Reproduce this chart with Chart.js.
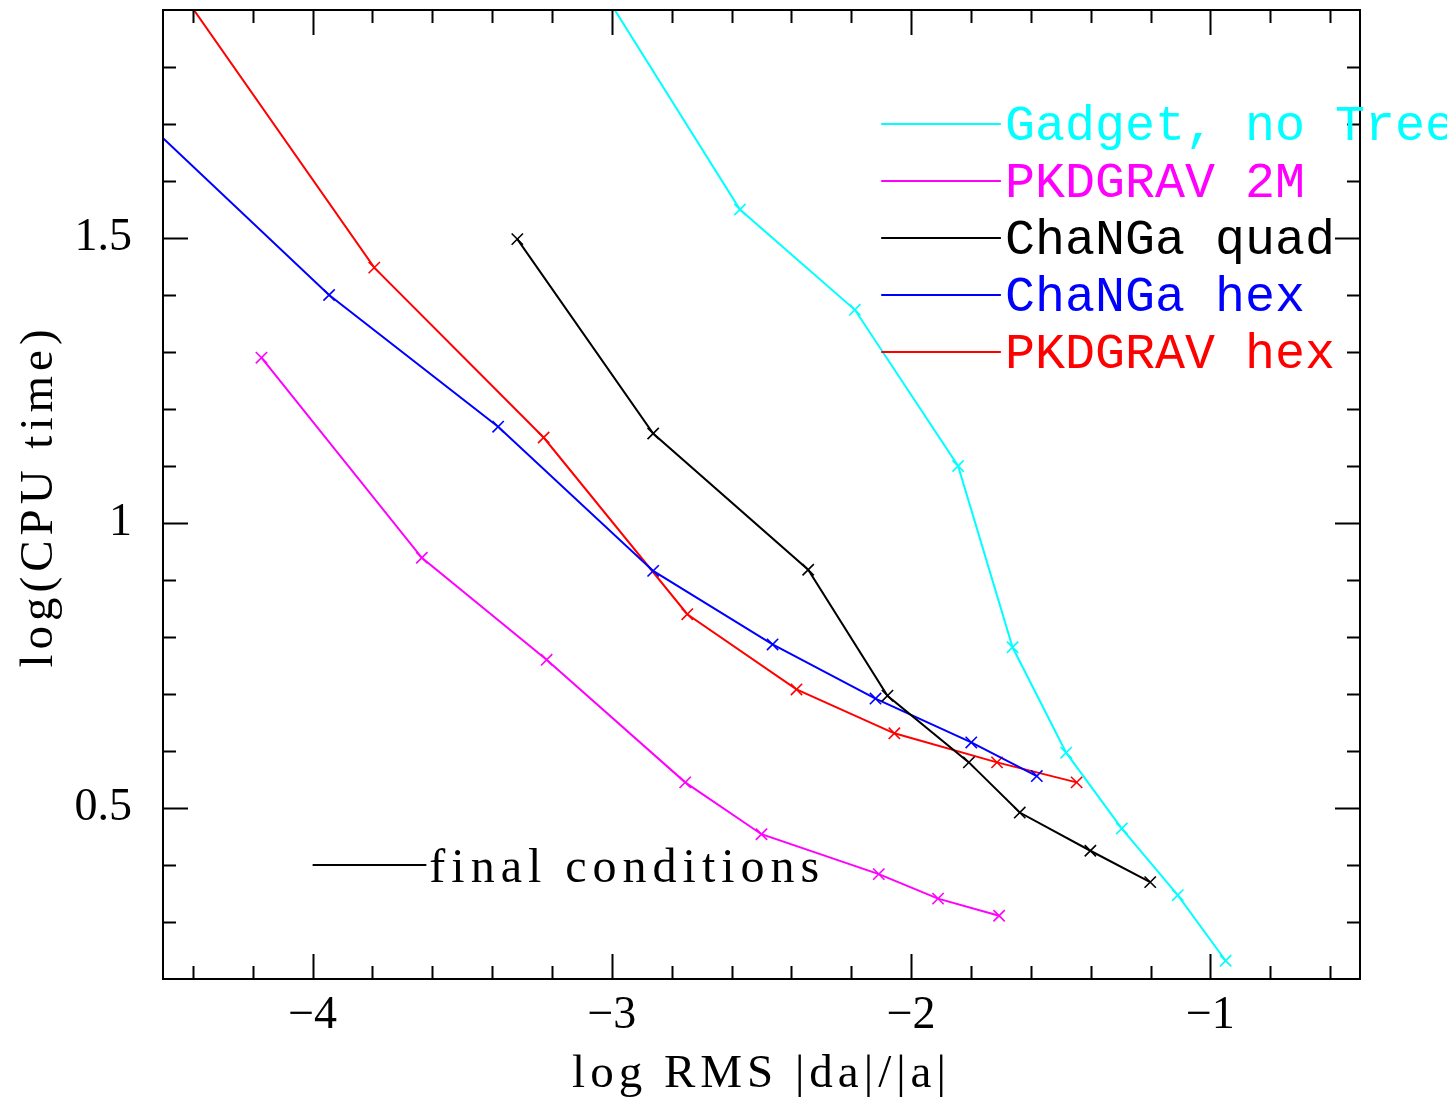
<!DOCTYPE html>
<html>
<head>
<meta charset="utf-8">
<title>log CPU time vs log RMS force error</title>
<script src="https://cdn.jsdelivr.net/npm/chart.js@4.4.1/dist/chart.umd.min.js"></script>
<style>
    html, body { margin: 0; padding: 0; background: #fff; }
    #wrap { width: 1447px; height: 1100px; }
</style>
</head>
<body>
<div id="wrap"><canvas id="cpuChart" width="1447" height="1100"></canvas></div>
<script>
// cpu-chart.js - log(CPU time) against log RMS |da|/|a| for the gravity codes

// Gadget, no TreePM (first point sits just above the frame)
const GADGET_X = [-3.05, -2.572, -2.188, -1.843, -1.661, -1.482, -1.296, -1.109, -0.949];
const GADGET_Y = [1.95, 1.550, 1.374, 1.100, 0.782, 0.597, 0.464, 0.347, 0.232];

// PKDGRAV 2M
const PKD2M_X = [-4.171, -3.635, -3.218, -2.755, -2.500, -2.108, -1.910, -1.706];
const PKD2M_Y = [1.290, 0.939, 0.760, 0.545, 0.454, 0.384, 0.341, 0.311];

// ChaNGa quad
const QUAD_X = [-3.316, -2.862, -2.344, -2.079, -1.807, -1.637, -1.401, -1.201];
const QUAD_Y = [1.498, 1.157, 0.918, 0.697, 0.580, 0.492, 0.425, 0.370];

// ChaNGa hex (first point sits just left of the frame)
const CHEX_X = [-4.55, -3.945, -3.380, -2.862, -2.463, -2.119, -1.799, -1.580];
const CHEX_Y = [1.70, 1.400, 1.169, 0.916, 0.787, 0.692, 0.615, 0.556];

// PKDGRAV hex (first point sits just above the frame)
const PHEX_X = [-4.45, -3.794, -3.228, -2.748, -2.383, -2.056, -1.713, -1.447];
const PHEX_Y = [1.94, 1.448, 1.150, 0.840, 0.708, 0.631, 0.580, 0.545];

const SERIES_NAMES = ['Gadget, no TreePM', 'PKDGRAV 2M', 'ChaNGa quad', 'ChaNGa hex', 'PKDGRAV hex'];
const SERIES_COLORS = ['#00ffff', '#ff00ff', '#000000', '#0000ff', '#ff0000'];

// axis ranges and tick steps
const X_MIN = -4.5, X_MAX = -0.5, X_MINOR = 0.2;
const Y_MIN = 0.2, Y_MAX = 1.9, Y_MINOR = 0.1;

const X_TITLE = 'log RMS |da|/|a|';
const Y_TITLE = 'log(CPU time)';
const NOTE_TEXT = 'final conditions';

const SERIF = '"Liberation Serif", "DejaVu Serif", serif';
const MONO = '"Liberation Mono", "DejaVu Sans Mono", monospace';

function toPoints(xs, ys) {
    return xs.map((x, i) => ({ x, y: ys[i] }));
}

function isMultiple(v, step) {
    const r = v / step;
    return Math.abs(r - Math.round(r)) < 1e-6;
}

function fmtMinus(v) {
    return v < 0 ? '\u2212' + String(Math.abs(v)) : String(v);
}

// tick values on multiples of step inside [min, max]
function stepTicks(min, max, step) {
    const out = [];
    for (let k = Math.ceil(min / step - 1e-9); k * step <= max + 1e-9; k++) {
        out.push({ value: Math.round(k * step * 1000) / 1000 });
    }
    return out;
}

// Frame with inward ticks on all four sides, PGPLOT style
const frameTicks = {
    id: 'frameTicks',
    afterDatasetsDraw(chart) {
        const { ctx, chartArea: a, scales: { x, y } } = chart;
        ctx.save();
        ctx.strokeStyle = '#000';
        ctx.lineWidth = 2;
        ctx.beginPath();
        x.ticks.forEach(t => {
            if (t.value <= x.min + 1e-6 || t.value >= x.max - 1e-6) return;
            const px = Math.round(x.getPixelForValue(t.value)) + 0.5;
            const len = isMultiple(t.value, 1) ? 25 : 13;
            ctx.moveTo(px, a.bottom); ctx.lineTo(px, a.bottom - len);
            ctx.moveTo(px, a.top); ctx.lineTo(px, a.top + len);
        });
        y.ticks.forEach(t => {
            if (t.value <= y.min + 1e-6 || t.value >= y.max - 1e-6) return;
            const py = Math.round(y.getPixelForValue(t.value)) + 0.5;
            const len = isMultiple(t.value, 0.5) ? 25 : 13;
            ctx.moveTo(a.left, py); ctx.lineTo(a.left + len, py);
            ctx.moveTo(a.right, py); ctx.lineTo(a.right - len, py);
        });
        ctx.stroke();
        ctx.strokeRect(a.left, a.top, a.right - a.left, a.bottom - a.top);
        ctx.restore();
    }
};

// Key, note and axis titles (key and note are placed in data space)
const plotText = {
    id: 'plotText',
    afterDraw(chart) {
        const { ctx, chartArea: a, scales: { x, y } } = chart;
        ctx.save();

        // key: sample line from -2.1 to -1.7, rows at 1.7, 1.6, ...
        ctx.font = '50px ' + MONO;
        ctx.textAlign = 'left';
        ctx.textBaseline = 'alphabetic';
        SERIES_NAMES.forEach((name, i) => {
            const py = y.getPixelForValue(1.7 - i * 0.1);
            ctx.strokeStyle = SERIES_COLORS[i];
            ctx.fillStyle = SERIES_COLORS[i];
            ctx.lineWidth = 2;
            ctx.beginPath();
            ctx.moveTo(x.getPixelForValue(-2.1), py);
            ctx.lineTo(x.getPixelForValue(-1.7), py);
            ctx.stroke();
            ctx.fillText(name, x.getPixelForValue(-1.7) + 4, py + 16);
        });

        // note in the lower left
        const ny = y.getPixelForValue(0.4);
        ctx.strokeStyle = '#000';
        ctx.fillStyle = '#000';
        ctx.beginPath();
        ctx.moveTo(x.getPixelForValue(-4), ny);
        ctx.lineTo(x.getPixelForValue(-3.62), ny);
        ctx.stroke();
        ctx.font = '48px ' + SERIF;
        ctx.letterSpacing = '6px';
        ctx.fillText(NOTE_TEXT, x.getPixelForValue(-3.61), ny + 17);

        // axis titles
        ctx.font = '47px ' + SERIF;
        ctx.letterSpacing = '5px';
        ctx.textAlign = 'center';
        ctx.fillText(X_TITLE, (a.left + a.right) / 2, 1087);
        ctx.translate(52, 496);
        ctx.rotate(-Math.PI / 2);
        ctx.fillText(Y_TITLE, 0, 0);

        ctx.restore();
    }
};

function buildDatasets() {
    const xs = [GADGET_X, PKD2M_X, QUAD_X, CHEX_X, PHEX_X];
    const ys = [GADGET_Y, PKD2M_Y, QUAD_Y, CHEX_Y, PHEX_Y];
    return SERIES_NAMES.map((name, i) => ({
        label: name,
        data: toPoints(xs[i], ys[i]),
        borderColor: SERIES_COLORS[i],
        backgroundColor: SERIES_COLORS[i],
        borderWidth: 2,
        pointStyle: 'crossRot',
        pointRadius: 8,
        pointBorderWidth: 1.6,
        tension: 0,
        fill: false
    }));
}

function createChart() {
    const canvas = document.getElementById('cpuChart');
    const ctx = canvas.getContext('2d');

    new Chart(ctx, {
        type: 'line',
        data: { datasets: buildDatasets() },
        options: {
            responsive: false,
            animation: false,
            devicePixelRatio: 1,
            layout: { padding: { top: 10, right: 87, left: 0, bottom: 0 } },
            plugins: {
                legend: { display: false },
                tooltip: { enabled: false }
            },
            scales: {
                x: {
                    type: 'linear',
                    min: X_MIN,
                    max: X_MAX,
                    grid: { display: false, drawTicks: false },
                    border: { display: false },
                    afterBuildTicks: scale => { scale.ticks = stepTicks(X_MIN, X_MAX, X_MINOR); },
                    ticks: {
                        autoSkip: false,
                        maxRotation: 0,
                        padding: 9,
                        color: '#000',
                        font: { family: SERIF, size: 46 },
                        callback: v => isMultiple(v, 1) ? fmtMinus(Math.round(v)) : ''
                    },
                    afterFit: scale => {
                        scale.height = 121;
                        scale.paddingLeft = 0;
                        scale.paddingRight = 0;
                    }
                },
                y: {
                    type: 'linear',
                    min: Y_MIN,
                    max: Y_MAX,
                    grid: { display: false, drawTicks: false },
                    border: { display: false },
                    afterBuildTicks: scale => { scale.ticks = stepTicks(Y_MIN, Y_MAX, Y_MINOR); },
                    ticks: {
                        autoSkip: false,
                        padding: 31,
                        color: '#000',
                        font: { family: SERIF, size: 46 },
                        callback: v => isMultiple(v, 0.5) ? String(Math.round(v * 2) / 2) : ''
                    },
                    afterFit: scale => {
                        scale.width = 163;
                        scale.paddingTop = 0;
                        scale.paddingBottom = 0;
                    }
                }
            }
        },
        plugins: [frameTicks, plotText]
    });
}

createChart();
</script>
</body>
</html>
